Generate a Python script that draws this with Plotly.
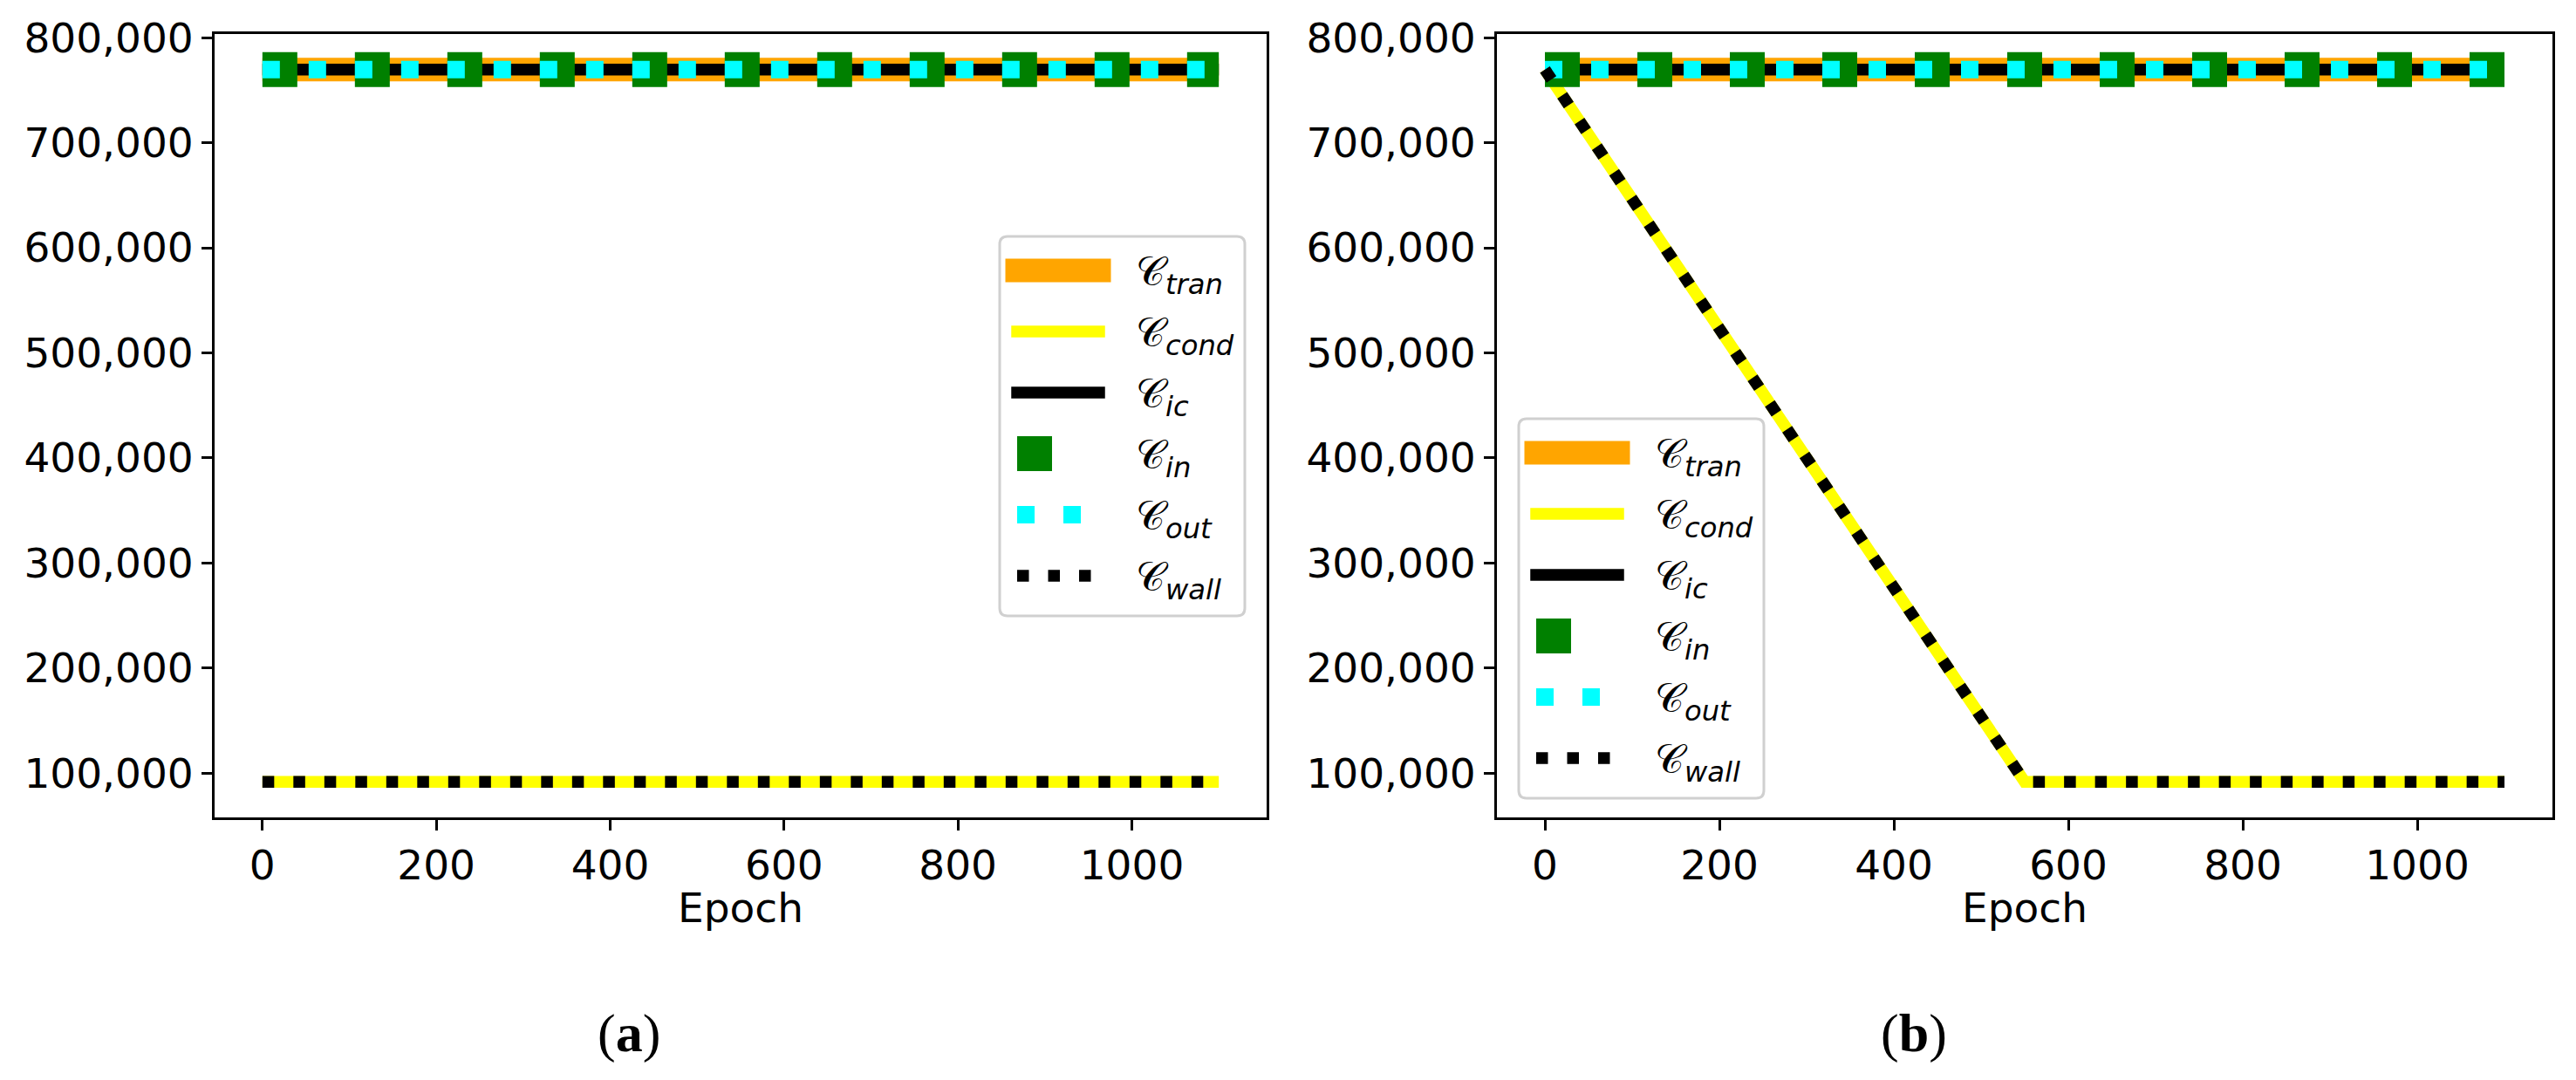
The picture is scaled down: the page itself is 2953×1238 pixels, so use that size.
import plotly.graph_objects as go

W, H = 2953, 1238

# ---------------- data ----------------
epoch_a = [0, 1100]
tran_a = [769500, 769500]
cond_a = [91800, 91800]
ic_a = [769500, 769500]
in_a = [769500, 769500]
out_a = [769500, 769500]
wall_a = [91800, 91800]

epoch_b = [0, 550, 1100]
tran_b = [769500, 769500, 769500]
cond_b = [769500, 91800, 91800]
ic_b = [769500, 769500, 769500]
in_b = [769500, 769500, 769500]
out_b = [769500, 769500, 769500]
wall_b = [769500, 91800, 91800]

series_names = ["tran", "cond", "ic", "in", "out", "wall"]
x_ticks = [0, 200, 400, 600, 800, 1000]
y_ticks = [100000, 200000, 300000, 400000, 500000, 600000, 700000, 800000]
panel_labels = ["(<b>a</b>)", "(<b>b</b>)"]
x_title = "Epoch"

# ---------------- styles ----------------
styles = {
    "tran": dict(color="#FFA500", width=27, dash="solid"),
    "cond": dict(color="#FFFF00", width=13.5, dash="solid"),
    "ic": dict(color="#000000", width=13.5, dash="solid"),
    "in": dict(color="#008000", width=40, dash="40px,66px"),
    "out": dict(color="#00FFFF", width=20, dash="20px,33px"),
    "wall": dict(color="#000000", width=13.5, dash="13.5px,22px"),
}

panels = [
    (epoch_a, dict(tran=tran_a, cond=cond_a, ic=ic_a, **{"in": in_a}, out=out_a, wall=wall_a)),
    (epoch_b, dict(tran=tran_b, cond=cond_b, ic=ic_b, **{"in": in_b}, out=out_b, wall=wall_b)),
]

def label(nm):
    return "𝒞<sub><i>" + nm + "</i></sub>"

fig = go.Figure()
for p, (ep, ser) in enumerate(panels):
    xa = "x" if p == 0 else "x2"
    ya = "y" if p == 0 else "y2"
    for nm in series_names:
        st = styles[nm]
        fig.add_trace(go.Scatter(
            x=ep, y=ser[nm], mode="lines", xaxis=xa, yaxis=ya,
            name=label(nm), showlegend=False,
            line=dict(color=st["color"], width=st["width"], dash=st["dash"]),
            hoverinfo="skip",
        ))

# ranges like matplotlib autoscale (5% margins)
all_x = epoch_a + epoch_b
all_y = tran_a + cond_a + tran_b + cond_b
xmin, xmax = min(all_x), max(all_x)
ymin, ymax = min(all_y), max(all_y)
xr = [xmin - 0.05 * (xmax - xmin), xmax + 0.05 * (xmax - xmin)]
yr = [ymin - 0.05 * (ymax - ymin), ymax + 0.05 * (ymax - ymin)]

font_family = "DejaVu Sans"
tick_font = dict(family=font_family, size=47, color="black")

def xaxis_cfg(dom, anchor):
    return dict(domain=dom, range=xr, tickvals=x_ticks, showline=True, mirror=True,
                linecolor="black", linewidth=2.7, ticks="outside", ticklen=12, tickwidth=2.7,
                tickcolor="black", tickfont=tick_font, showgrid=False, zeroline=False,
                automargin=False, anchor=anchor)

def yaxis_cfg(dom, anchor):
    return dict(domain=dom, range=yr, tickvals=y_ticks, tickformat=",", showline=True, mirror=True,
                linecolor="black", linewidth=2.7, ticks="outside", ticklen=12, tickwidth=2.7,
                tickcolor="black", tickfont=tick_font, showgrid=False, zeroline=False,
                automargin=False, anchor=anchor)

ydom = [1 - 937 / H, 1 - 39 / H]

fig.update_layout(
    width=W, height=H, paper_bgcolor="white", plot_bgcolor="white",
    margin=dict(l=0, r=0, t=0, b=0, autoexpand=False),
    xaxis=xaxis_cfg([246 / W, 1452 / W], "y"),
    yaxis=yaxis_cfg(ydom, "x"),
    xaxis2=xaxis_cfg([1716 / W, 2926 / W], "y2"),
    yaxis2=yaxis_cfg(ydom, "x2"),
    showlegend=False,
)

# ---------------- hand-built legends (matplotlib look) ----------------
def px(x):
    return x / W

def py(y):
    return 1 - y / H

# axis titles
for xref in ["x domain", "x2 domain"]:
    fig.add_annotation(text=x_title, xref=xref, yref="paper", x=0.5, y=py(1040),
                       xanchor="center", yanchor="middle", showarrow=False, font=tick_font)

legend_boxes = [(1146, 271), (1741, 480)]
box_w, box_h, rad = 281, 435, 9
shapes = []
for (bx, by) in legend_boxes:
    x0, y0, x1, y1 = bx, by, bx + box_w, by + box_h
    path = (f"M{px(x0 + rad)},{py(y0)} L{px(x1 - rad)},{py(y0)} Q{px(x1)},{py(y0)} {px(x1)},{py(y0 + rad)} "
            f"L{px(x1)},{py(y1 - rad)} Q{px(x1)},{py(y1)} {px(x1 - rad)},{py(y1)} "
            f"L{px(x0 + rad)},{py(y1)} Q{px(x0)},{py(y1)} {px(x0)},{py(y1 - rad)} "
            f"L{px(x0)},{py(y0 + rad)} Q{px(x0)},{py(y0)} {px(x0 + rad)},{py(y0)} Z")
    shapes.append(dict(type="path", path=path, xref="paper", yref="paper",
                       fillcolor="white", line=dict(color="#d0d0d0", width=3), layer="above"))
    for i, nm in enumerate(series_names):
        st = styles[nm]
        ry = by + 39 + 70 * i
        sx0, sx1 = bx + 20, bx + 114
        if st["dash"] == "solid":
            # projecting cap like matplotlib
            sx0 -= st["width"] / 2
            sx1 += st["width"] / 2
        shapes.append(dict(type="line", xref="paper", yref="paper",
                           x0=px(sx0), x1=px(sx1), y0=py(ry), y1=py(ry),
                           line=dict(color=st["color"], width=st["width"], dash=st["dash"]),
                           layer="above"))
        fig.add_annotation(text=label(nm), xref="paper", yref="paper",
                           x=px(bx + 154), y=py(ry + 4), xanchor="left", yanchor="middle",
                           showarrow=False,
                           font=dict(family=font_family, size=46, color="black"))

fig.update_layout(shapes=shapes)

for lab, cx in zip(panel_labels, [721, 2194]):
    fig.add_annotation(text=lab, xref="paper", yref="paper", x=cx / W, y=1 - 1184 / H,
                       showarrow=False, xanchor="center", yanchor="middle",
                       font=dict(family="Liberation Serif", size=62, color="black"))

fig.write_html("out.html", config={"displayModeBar": False},
               post_script="document.body.style.margin='0';document.body.style.overflow='hidden';")
